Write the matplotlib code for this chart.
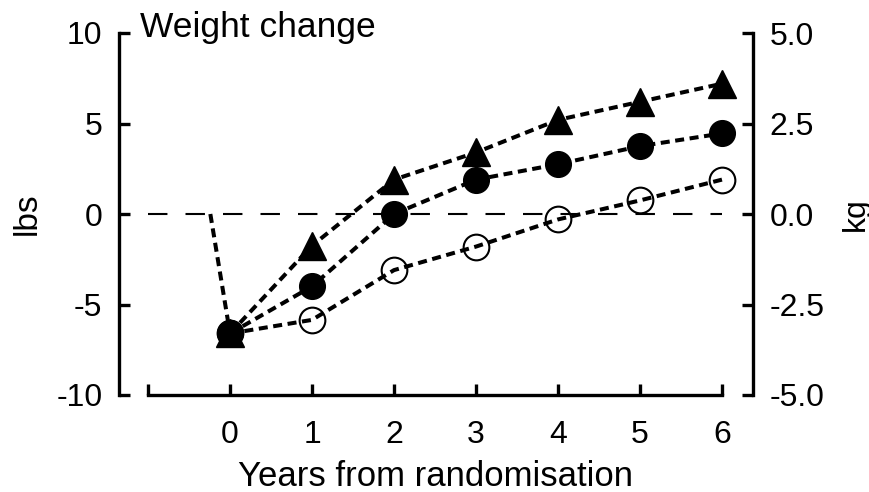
import matplotlib
matplotlib.use("Agg")
import matplotlib.pyplot as plt

plt.rcParams['font.family'] = ['Liberation Sans', 'DejaVu Sans']
plt.rcParams['lines.scale_dashes'] = False

years = [0, 1, 2, 3, 4, 5, 6]
triangle_lbs = [-6.6, -1.75, 1.9, 3.4, 5.2, 6.2, 7.2]
filled_lbs = [-6.6, -4.0, 0.0, 1.9, 2.75, 3.75, 4.45]
open_lbs = [-6.6, -5.85, -3.1, -1.8, -0.3, 0.75, 1.9]
baseline_x = [-0.24, 0]
baseline_y = [0, -6.6]
ref_x = [-1, 6]
ref_y = [0, 0]

lbs_ticks = [-10, -5, 0, 5, 10]
kg_ticks = [-5.0, -2.5, 0.0, 2.5, 5.0]
x_ticks = [-1, 0, 1, 2, 3, 4, 5, 6]
x_labels = ['', '0', '1', '2', '3', '4', '5', '6']

W, H = 870, 492
fig = plt.figure(figsize=(W / 100, H / 100), dpi=100)
ax = fig.add_axes([119 / W, 97 / H, (753 - 119) / W, (395 - 33) / H])
ax.set_xlim(-1.354, 6.378)
ax.set_ylim(-10, 10)

dash = (0, (6.5, 4))
lw = 2.9
ax.plot(ref_x, ref_y, color='black', lw=1.5, linestyle=(0, (14, 13)), zorder=1)
ax.plot(baseline_x, baseline_y, color='black', lw=lw, linestyle=dash, zorder=2)
ax.plot(years, open_lbs, color='black', lw=lw, linestyle=dash, marker='o',
        ms=18.5, mfc='none', mec='black', mew=1.5, zorder=3)
ax.plot(years, filled_lbs, color='black', lw=lw, linestyle=dash, marker='o',
        ms=18.5, mfc='black', mec='black', zorder=4)
ax.plot(years, triangle_lbs, color='black', lw=lw, linestyle=dash, marker='^',
        ms=20, mfc='black', mec='black', zorder=3)

for s in ['top', 'right']:
    ax.spines[s].set_visible(False)
ax.spines['left'].set_linewidth(2.4)
ax.spines['bottom'].set_linewidth(2.4)
ax.spines['bottom'].set_bounds(-1, 6)

ax.set_yticks(lbs_ticks)
ax.set_yticklabels([str(t) for t in lbs_ticks])
ax.set_xticks(x_ticks)
ax.set_xticklabels(x_labels)
ax.tick_params(axis='y', direction='in', length=8, width=2.4, labelsize=23, pad=12)
ax.tick_params(axis='x', direction='in', length=8, width=2.4, labelsize=23, pad=18)

ax.set_xlabel('Years from randomisation', fontsize=25, labelpad=7)
ax.set_ylabel('lbs', fontsize=24, labelpad=10)

ax2 = ax.twinx()
ax2.set_ylim(-5, 5)
for s in ['top', 'left', 'bottom']:
    ax2.spines[s].set_visible(False)
ax2.spines['right'].set_linewidth(2.4)
ax2.set_yticks(kg_ticks)
ax2.set_yticklabels(['%.1f' % t for t in kg_ticks])
ax2.tick_params(axis='y', direction='in', length=8, width=2.4, labelsize=23, pad=12)
ax2.set_ylabel('kg', fontsize=23, rotation=90, labelpad=12)

ax.text(-1.1, 9.8, 'Weight change', fontsize=25.5, ha='left', va='baseline')

fig.savefig('out.png', dpi=100)
